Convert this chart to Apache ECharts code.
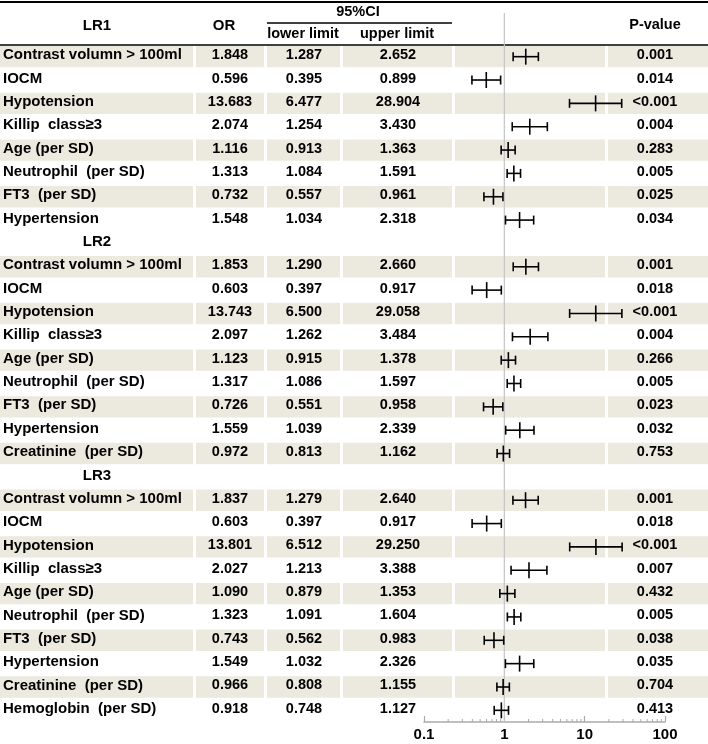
<!DOCTYPE html>
<html><head><meta charset="utf-8">
<script src="https://cdn.jsdelivr.net/npm/echarts@6/dist/echarts.min.js"></script>
<style>html,body{margin:0;padding:0;background:#fff}#c{width:708px;height:744px}</style>
</head><body><div id="c"></div>
<script>
// ---------- data ----------
const groupLabels = ['LR1', 'LR2', 'LR3'];
const headerLabels = ['OR', '95%CI', 'lower limit', 'upper limit', 'P-value'];

const namesLR1 = ['Contrast volumn > 100ml', 'IOCM', 'Hypotension', 'Killip  class≥3', 'Age (per SD)', 'Neutrophil  (per SD)', 'FT3  (per SD)', 'Hypertension'];
const orLR1 = [1.848, 0.596, 13.683, 2.074, 1.116, 1.313, 0.732, 1.548];
const lowerLR1 = [1.287, 0.395, 6.477, 1.254, 0.913, 1.084, 0.557, 1.034];
const upperLR1 = [2.652, 0.899, 28.904, 3.430, 1.363, 1.591, 0.961, 2.318];
const pLR1 = ['0.001', '0.014', '<0.001', '0.004', '0.283', '0.005', '0.025', '0.034'];

const namesLR2 = ['Contrast volumn > 100ml', 'IOCM', 'Hypotension', 'Killip  class≥3', 'Age (per SD)', 'Neutrophil  (per SD)', 'FT3  (per SD)', 'Hypertension', 'Creatinine  (per SD)'];
const orLR2 = [1.853, 0.603, 13.743, 2.097, 1.123, 1.317, 0.726, 1.559, 0.972];
const lowerLR2 = [1.290, 0.397, 6.500, 1.262, 0.915, 1.086, 0.551, 1.039, 0.813];
const upperLR2 = [2.660, 0.917, 29.058, 3.484, 1.378, 1.597, 0.958, 2.339, 1.162];
const pLR2 = ['0.001', '0.018', '<0.001', '0.004', '0.266', '0.005', '0.023', '0.032', '0.753'];

const namesLR3 = ['Contrast volumn > 100ml', 'IOCM', 'Hypotension', 'Killip  class≥3', 'Age (per SD)', 'Neutrophil  (per SD)', 'FT3  (per SD)', 'Hypertension', 'Creatinine  (per SD)', 'Hemoglobin  (per SD)'];
const orLR3 = [1.837, 0.603, 13.801, 2.027, 1.090, 1.323, 0.743, 1.549, 0.966, 0.918];
const lowerLR3 = [1.279, 0.397, 6.512, 1.213, 0.879, 1.091, 0.562, 1.032, 0.808, 0.748];
const upperLR3 = [2.640, 0.917, 29.250, 3.388, 1.353, 1.604, 0.983, 2.326, 1.155, 1.127];
const pLR3 = ['0.001', '0.018', '<0.001', '0.007', '0.432', '0.005', '0.038', '0.035', '0.704', '0.413'];

const axisTickLabels = ['0.1', '1', '10', '100'];
const minorTickValues = [0.2, 0.3, 0.4, 0.5, 0.6, 0.7, 0.8, 0.9, 2, 3, 4, 5, 6, 7, 8, 9, 20, 30, 40, 50, 60, 70, 80, 90];

// ---------- build rows ----------
const groups = [
  [namesLR1, orLR1, lowerLR1, upperLR1, pLR1],
  [namesLR2, orLR2, lowerLR2, upperLR2, pLR2],
  [namesLR3, orLR3, lowerLR3, upperLR3, pLR3]
];
const rows = [];
groups.forEach((g, gi) => {
  if (gi > 0) rows.push({ label: groupLabels[gi] });
  g[0].forEach((n, i) => rows.push({ name: n, or: g[1][i], lo: g[2][i], hi: g[3][i], p: g[4][i], shade: i % 2 === 0 }));
});
const catData = rows.map((r, i) => String(i));
const tableData = rows.map((r, i) => [0, i]);
const forestData = [];
rows.forEach((r, i) => { if (r.name) forestData.push([r.or, i, r.lo, r.hi]); });

// ---------- layout ----------
const FAM = '"Liberation Sans", Arial, sans-serif';
const FONT_NAME = 'bold 15px ' + FAM;
const FONT = 'bold 14.5px ' + FAM;
const SHADE = '#ECE9DF';
const colSegs = [[0, 193], [196, 264], [267, 340], [343, 452], [455, 605], [608, 708]];
const colX = { name: 3, label: 97, or: 230, lo: 304, hi: 398, p: 655 };

function tableItem(params, api) {
  const idx = api.value(1);
  const r = rows[idx];
  const y = api.coord([0, idx])[1];
  const bh = api.size([0, 1])[1];
  const ch = [];
  if (r.shade) {
    colSegs.forEach(s => {
      const x0 = api.coord([s[0], idx])[0], x1 = api.coord([s[1], idx])[0];
      ch.push({ type: 'rect', shape: { x: x0, y: y - bh / 2 + 1, width: x1 - x0, height: bh - 2 }, style: { fill: SHADE } });
    });
  }
  const txt = (t, x, align, f) => ch.push({ type: 'text', x: api.coord([x, idx])[0], y: y - 1.5,
    style: { text: t, font: f || FONT, fill: '#000', align: align, verticalAlign: 'middle' } });
  if (r.label) {
    txt(r.label, colX.label, 'center', FONT_NAME);
  } else {
    txt(r.name, colX.name, 'left', FONT_NAME);
    txt(r.or.toFixed(3), colX.or, 'center');
    txt(r.lo.toFixed(3), colX.lo, 'center');
    txt(r.hi.toFixed(3), colX.hi, 'center');
    txt(r.p, colX.p, 'center');
  }
  return { type: 'group', children: ch };
}

function forestItem(params, api) {
  const idx = api.value(1);
  const y = api.coord([1, idx])[1];
  const xo = api.coord([api.value(0), idx])[0];
  const xl = api.coord([api.value(2), idx])[0];
  const xh = api.coord([api.value(3), idx])[0];
  const st = { stroke: '#000', lineWidth: 1.6 };
  return { type: 'group', children: [
    { type: 'line', shape: { x1: xl, y1: y, x2: xh, y2: y }, style: st },
    { type: 'line', shape: { x1: xl, y1: y - 4.5, x2: xl, y2: y + 4.5 }, style: st },
    { type: 'line', shape: { x1: xh, y1: y - 4.5, x2: xh, y2: y + 4.5 }, style: st },
    { type: 'line', shape: { x1: xo, y1: y - 8, x2: xo, y2: y + 8 }, style: st }
  ] };
}

function refItem(params, api) {
  const x = api.coord([api.value(0), 0])[0];
  const cs = params.coordSys;
  return { type: 'line', shape: { x1: x, y1: 13, x2: x, y2: cs.y + cs.height }, style: { stroke: '#C4C4C4', lineWidth: 1.2 } };
}

function minorItem(params, api) {
  const x = api.coord([api.value(0), 0])[0];
  const cs = params.coordSys;
  const yb = cs.y + cs.height;
  return { type: 'line', shape: { x1: x, y1: yb, x2: x, y2: yb - 3 }, style: { stroke: '#AAAAAA', lineWidth: 1 } };
}

const chart = echarts.init(document.getElementById('c'), null, { renderer: 'canvas' });
chart.setOption({
  animation: false,
  backgroundColor: '#fff',
  grid: [
    { left: 0, right: 0, top: 45, bottom: 22 },
    { left: 424, right: 43, top: 45, bottom: 22 }
  ],
  xAxis: [
    { type: 'value', gridIndex: 0, min: 0, max: 708, show: false },
    { type: 'log', gridIndex: 1, logBase: 10, min: 0.1, max: 100,
      axisLine: { show: true, lineStyle: { color: '#AAAAAA', width: 1.5 } },
      axisTick: { show: true, inside: true, length: 6, lineStyle: { color: '#AAAAAA', width: 1.2 } },
      splitLine: { show: false },
      axisLabel: { color: '#000', fontWeight: 'bold', fontSize: 15, fontFamily: FAM, margin: 5,
        formatter: v => { const i = Math.round(Math.log10(v)) + 1; return axisTickLabels[i] !== undefined ? axisTickLabels[i] : ''; } }
    }
  ],
  yAxis: [
    { type: 'category', gridIndex: 0, data: catData, inverse: true, show: false },
    { type: 'category', gridIndex: 1, data: catData, inverse: true, show: false }
  ],
  graphic: [
    { type: 'line', shape: { x1: 0, y1: 2, x2: 708, y2: 2 }, style: { stroke: '#000', lineWidth: 2 } },
    { type: 'line', shape: { x1: 267, y1: 23, x2: 452, y2: 23 }, style: { stroke: '#000', lineWidth: 1.5 } },
    { type: 'line', shape: { x1: 0, y1: 45, x2: 708, y2: 45 }, style: { stroke: '#000', lineWidth: 1.5 } },
    { type: 'text', x: 97, y: 26, style: { text: groupLabels[0], font: FONT_NAME, fill: '#000', align: 'center', verticalAlign: 'middle' } },
    { type: 'text', x: 224, y: 26, style: { text: headerLabels[0], font: FONT_NAME, fill: '#000', align: 'center', verticalAlign: 'middle' } },
    { type: 'text', x: 358, y: 12, style: { text: headerLabels[1], font: FONT, fill: '#000', align: 'center', verticalAlign: 'middle' } },
    { type: 'text', x: 303, y: 34, style: { text: headerLabels[2], font: FONT, fill: '#000', align: 'center', verticalAlign: 'middle' } },
    { type: 'text', x: 397, y: 34, style: { text: headerLabels[3], font: FONT, fill: '#000', align: 'center', verticalAlign: 'middle' } },
    { type: 'text', x: 655, y: 25, style: { text: headerLabels[4], font: FONT, fill: '#000', align: 'center', verticalAlign: 'middle' } }
  ],
  series: [
    { type: 'custom', xAxisIndex: 0, yAxisIndex: 0, z: 1, renderItem: tableItem, data: tableData, encode: { x: 0, y: 1 }, silent: true },
    { type: 'custom', xAxisIndex: 1, yAxisIndex: 1, z: 2, renderItem: refItem, data: [[1, 0]], encode: { x: 0, y: 1 }, silent: true },
    { type: 'custom', xAxisIndex: 1, yAxisIndex: 1, z: 2, renderItem: minorItem, data: minorTickValues.map(v => [v, 0]), encode: { x: 0, y: 1 }, silent: true },
    { type: 'custom', xAxisIndex: 1, yAxisIndex: 1, z: 3, renderItem: forestItem, data: forestData, encode: { x: [0, 2, 3], y: 1 }, silent: true }
  ]
});
</script></body></html>
